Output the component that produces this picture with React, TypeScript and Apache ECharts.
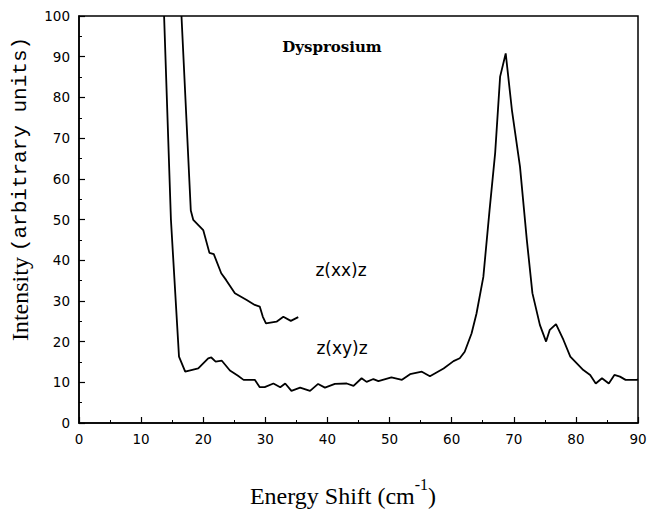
import React, { useEffect, useRef } from "react";
import * as echarts from "echarts";

// z(xy)z spectrum
const xyShift = [13.7, 14.8, 16.1, 17.1, 19.2, 20.8, 21.3, 22.0, 23.0, 24.3, 25.6, 26.5, 28.3, 29.1, 29.9, 31.3, 32.4, 33.2, 34.2, 35.6, 37.2, 38.5, 39.6, 41.2, 43.1, 44.2, 45.5, 46.3, 47.4, 48.2, 50.3, 52.0, 53.3, 55.2, 56.5, 58.7, 60.3, 61.3, 62.1, 63.2, 64.0, 65.1, 66.1, 67.0, 67.8, 68.7, 69.7, 71.0, 72.1, 73.0, 74.2, 75.2, 75.8, 76.8, 78.0, 79.1, 81.2, 82.3, 83.2, 84.2, 85.3, 86.2, 87.1, 88.0, 89.8, 90.0];
const xyIntensity = [100, 50, 16.3, 12.6, 13.4, 15.9, 16.1, 15.1, 15.3, 12.9, 11.6, 10.6, 10.6, 8.8, 8.8, 9.7, 8.8, 9.7, 7.9, 8.7, 7.9, 9.6, 8.7, 9.6, 9.7, 9.1, 11.0, 10.1, 10.8, 10.3, 11.2, 10.6, 12.0, 12.6, 11.5, 13.4, 15.2, 15.9, 17.5, 22.0, 26.9, 35.9, 52.3, 66.3, 85.1, 90.8, 76.9, 63.0, 45.0, 31.9, 24.1, 20.0, 22.9, 24.3, 20.4, 16.3, 13.0, 11.8, 9.7, 11.0, 9.7, 11.8, 11.4, 10.6, 10.6, 10.7];

// z(xx)z spectrum
const xxShift = [16.5, 18.0, 18.4, 20.0, 21.0, 21.7, 22.9, 23.7, 25.1, 27.0, 28.3, 29.1, 29.6, 30.1, 31.8, 32.9, 34.1, 35.3];
const xxIntensity = [100, 52.2, 49.9, 47.4, 41.8, 41.5, 36.8, 35.1, 31.9, 30.2, 29.0, 28.6, 26.1, 24.5, 24.9, 26.1, 25.1, 26.0];

const xTitle = "Energy Shift (cm";
const xTitleSup = "-1";
const yTitleMain = "Intensity";
const yTitleUnits = "(arbitrary units)";
const sampleName = "Dysprosium";
const labelXX = "z(xx)z";
const labelXY = "z(xy)z";

const zip = (xs: number[], ys: number[]) => xs.map((x, i) => [x, ys[i]]);

export default function App() {
  const ref = useRef<HTMLDivElement>(null);
  useEffect(() => {
    if (!ref.current) return;
    const chart = echarts.init(ref.current, null, { renderer: "svg" });
    const axisCommon = {
      axisLine: { show: true, lineStyle: { color: "#000", width: 1.5 } },
      axisTick: { show: true, inside: true, length: 6, lineStyle: { color: "#000", width: 1.2 } },
      minorTick: { show: true, splitNumber: 2, length: 3, lineStyle: { color: "#000", width: 1 } },
      splitLine: { show: false },
      axisLabel: { color: "#000", fontFamily: "DejaVu Sans", fontSize: 13.5, margin: 9 },
    };
    chart.setOption({
      animation: false,
      backgroundColor: "#fff",
      grid: { left: 79, right: 20, top: 16, bottom: 87, show: true, borderColor: "#000", borderWidth: 1.5 },
      xAxis: { type: "value", min: 0, max: 90, interval: 10, ...axisCommon },
      yAxis: { type: "value", min: 0, max: 100, interval: 10, ...axisCommon },
      series: [
        {
          type: "line",
          data: zip(xyShift, xyIntensity),
          showSymbol: false,
          lineStyle: { color: "#000", width: 1.8 },
          clip: true,
        },
        {
          type: "line",
          data: zip(xxShift, xxIntensity),
          showSymbol: false,
          lineStyle: { color: "#000", width: 1.8 },
          clip: true,
        },
      ],
      graphic: [
        {
          type: "text",
          x: 343,
          y: 492,
          style: {
            text: `{a|${xTitle}}{b|${xTitleSup}}{a|)}`,
            align: "center",
            verticalAlign: "middle",
            rich: {
              a: { fontFamily: "Liberation Serif", fontSize: 24, lineHeight: 31, verticalAlign: "bottom", fill: "#000" },
              b: { fontFamily: "Liberation Serif", fontSize: 16, lineHeight: 16, verticalAlign: "top", fill: "#000" },
            },
          },
        },
        {
          type: "text",
          x: 20,
          y: 189,
          rotation: Math.PI / 2,
          style: {
            text: `{a|${yTitleMain} }{m|${yTitleUnits}}`,
            align: "center",
            verticalAlign: "middle",
            rich: {
              a: { fontFamily: "Liberation Serif", fontSize: 24, fill: "#000" },
              m: { fontFamily: "Liberation Mono", fontSize: 21, fill: "#000" },
            },
          },
        },
        {
          type: "text",
          x: 332,
          y: 47,
          style: {
            text: sampleName,
            align: "center",
            verticalAlign: "middle",
            fontFamily: "DejaVu Serif",
            fontWeight: "bold",
            fontSize: 15,
            fill: "#000",
          },
        },
        {
          type: "text",
          x: 341,
          y: 270,
          style: { text: labelXX, align: "center", verticalAlign: "middle", fontFamily: "DejaVu Sans", fontSize: 17, fill: "#000" },
        },
        {
          type: "text",
          x: 342,
          y: 348,
          style: { text: labelXY, align: "center", verticalAlign: "middle", fontFamily: "DejaVu Sans", fontSize: 17, fill: "#000" },
        },
      ],
    });
    return () => chart.dispose();
  }, []);
  return <div ref={ref} style={{ position: "fixed", left: 0, top: 0, width: 658, height: 510 }} />;
}
